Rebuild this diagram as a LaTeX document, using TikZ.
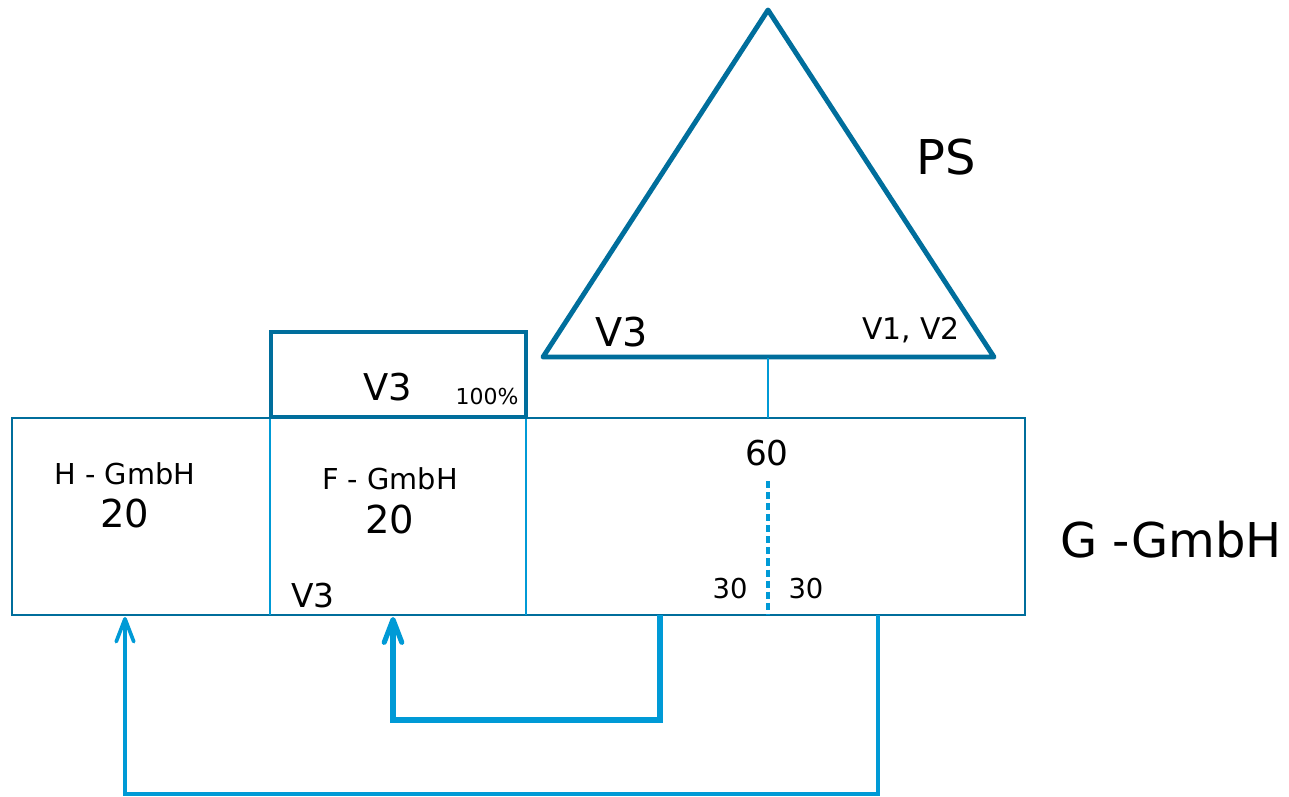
\documentclass[tikz,border=0pt]{standalone}
\usepackage{fontspec}
\setmainfont{DejaVu Sans}
\usetikzlibrary{arrows.meta}
\definecolor{psblue}{HTML}{006E9C}
\definecolor{linkblue}{HTML}{009AD6}
\tikzset{
  lbl/.style = {inner sep=0pt, outer sep=0pt, anchor=base,
                font=\fontsize{#1}{#1}\selectfont},
  lbl/.default = 16pt,
  flow/.style = {draw=linkblue, line width=#1,
                 -{Straight Barb[round, length=13pt, width=10pt, line width=#1]}},
  flow/.default = 2pt
}

\begin{document}
\begin{tikzpicture}[x=0.02cm, y=-0.02cm]
	\def \boxw{1.6pt}
	\def \thickw{2.8pt}
	\useasboundingbox (0,0) rectangle (1289,797);

	% G - GmbH box
	\draw[psblue, line width=\boxw] (12,418) rectangle (1025,615);
	\draw[linkblue, line width=1.7pt] (270,418) -- (270,615); % H | F
	\draw[linkblue, line width=1.7pt] (526,418) -- (526,615); % F | rest

	% V3 box (100%)
	\draw[psblue, line width=\thickw] (271,332) rectangle (526,417);

	% PS triangle
	\draw[psblue, line width=\thickw, line join=round]
		(768,10) -- (994,357) -- (543,357) -- cycle;
	\coordinate (psbase) at (768,358);
	\coordinate (gtop) at (768,418);
	\draw[linkblue, line width=1.2pt] (psbase) -- (gtop);

	% 60 split into 30 / 30
	\coordinate (splittop) at (768,481);
	\coordinate (splitbot) at (768,615);
	\draw[linkblue, line width=2.2pt, dash pattern=on 4pt off 2.3pt] (splittop) -- (splitbot);

	% Labels
	\node[lbl=27.3pt] (ps)    at (946,175) {PS};
	\node[lbl=22.6pt] (psv3)  at (622,347) {V3};
	\node[lbl=17pt]   (psv12) at (911,339) {V1, V2};
	\node[lbl=21pt]   (boxv3) at (388,400) {V3};
	\node[lbl=12.5pt] (pct)   at (487,404) {100\%};
	\node[lbl=16.4pt] (hname) at (125,484) {H - GmbH};
	\node[lbl=21.9pt] (hval)  at (125,527) {20};
	\node[lbl=16.4pt] (fname) at (390,489) {F - GmbH};
	\node[lbl=21.9pt] (fval)  at (390,533) {20};
	\node[lbl=18.7pt] (fv3)   at (313,607) {V3};
	\node[lbl=19.5pt] (gval)  at (767,465) {60};
	\node[lbl=15.6pt] (gleft) at (730,598) {30};
	\node[lbl=15.6pt] (grght) at (806,598) {30};
	\node[lbl=27.3pt] (gname) at (1171,557) {G -GmbH};

	% Flows
	\coordinate (src1) at (660,615);
	\coordinate (dst1) at (393,617);
	\coordinate (src2) at (878,615);
	\coordinate (dst2) at (125,617);
	\draw[flow=2.9pt] (src1) -- ++(0,105) -| (dst1);
	\draw[flow=2.1pt] (src2) -- ++(0,179) -| (dst2);
\end{tikzpicture}
\end{document}
